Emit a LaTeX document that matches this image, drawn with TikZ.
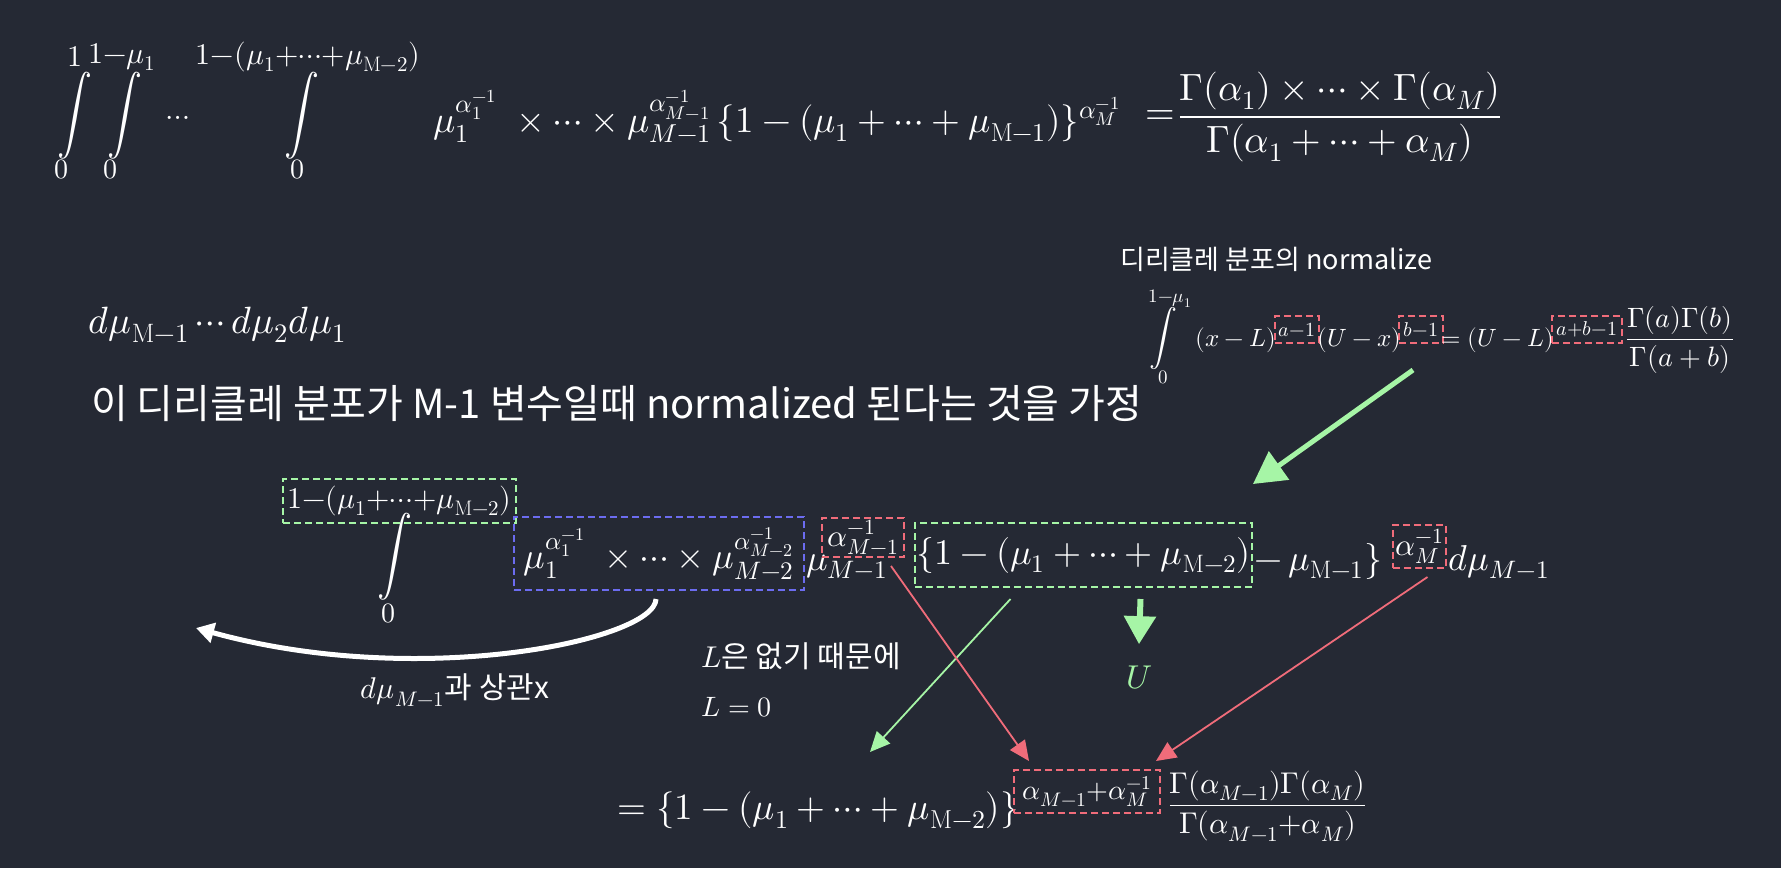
\documentclass[tikz,border=0pt]{standalone}
\usepackage{fontspec}
\usepackage{unicode-math}
\setmathfont{Latin Modern Math}
\newfontfamily\krfont{Noto Sans CJK KR}
\usetikzlibrary{arrows.meta}
\definecolor{bgdark}{RGB}{37,41,52}
\definecolor{lgreen}{RGB}{166,245,166}
\definecolor{lpink}{RGB}{240,108,122}
\definecolor{lblue}{RGB}{108,108,240}
\newcommand{\pxsize}[1]{\fontsize{#1}{#1}\selectfont}
\newcommand{\tallint}{\scalebox{1}[1.12]{$\displaystyle\int$}}

\begin{document}
\begin{tikzpicture}[x=1pt,y=-1pt,
    eqn/.style={text=white, inner sep=0pt},
    greenbox/.style={draw=lgreen, dash pattern=on 7pt off 4pt, line width=2pt, inner sep=0pt, text=white},
    redbox/.style={draw=lpink, dash pattern=on 7pt off 4pt, line width=2pt, inner sep=0pt, text=white},
    bluebox/.style={draw=lblue, dash pattern=on 7pt off 4pt, line width=2pt, inner sep=0pt, text=white},
    thinarrow/.style={line width=1.8pt, -{Triangle[length=20pt,width=18pt]}}]
       \useasboundingbox (0,0) rectangle (1781,868);
       \fill[bgdark] (0,0) rectangle (1781,868);

       % first line: the M-fold integral
       \node[eqn, font=\pxsize{35}] (intA) at (75,116) {\tallint};
       \node[eqn, font=\pxsize{30}] (intAup) at (75,57) {$1$};
       \node[eqn, font=\pxsize{28}] (intAlo) at (61,169) {$0$};
       \node[eqn, font=\pxsize{35}] (intB) at (125,116) {\tallint};
       \node[eqn, font=\pxsize{30}] (intBup) at (122,57) {$1{-}\mu_1$};
       \node[eqn, font=\pxsize{28}] (intBlo) at (110,169) {$0$};
       \node[eqn, font=\pxsize{30}] (intdots) at (178,118) {$\ldots$};
       \node[eqn, font=\pxsize{35}] (intC) at (302,116) {\tallint};
       \node[eqn, font=\pxsize{30}] (intCup) at (308,57) {$1{-}(\mu_1{+}{\cdots}{+}\mu_{\mathrm{M}-2})$};
       \node[eqn, font=\pxsize{28}] (intClo) at (297,169) {$0$};
       \node[eqn, font=\pxsize{37}, anchor=base west] (integrand) at (433,132)
          {$\mu_1^{\alpha_1^{-1}}\ \times\cdots\times\mu_{M-1}^{\alpha_{M-1}^{-1}}\,\{1-(\mu_1+\cdots+\mu_{\mathrm{M}-1})\}^{\alpha_M^{-1}}$};
       \node[eqn, font=\pxsize{38}] (eqA) at (1160,118) {$=$};
       \node[eqn, font=\pxsize{38}] (fracA) at (1340,117)
          {$\displaystyle\frac{\mitGamma(\alpha_1)\times\cdots\times\mitGamma(\alpha_M)}{\mitGamma(\alpha_1+\cdots+\alpha_M)}$};

       \node[eqn, font=\pxsize{38}, anchor=base west] (dmu) at (88,333) {$d\mu_{\mathrm{M}-1}\cdots d\mu_2d\mu_1$};
       \node[eqn, font=\pxsize{40}\krfont, anchor=west] (assume) at (91,404) {이 디리클레 분포가 M-1 변수일때 normalized 된다는 것을 가정};

       % normalize of the Dirichlet (beta) integral
       \node[eqn, font=\pxsize{27}\krfont, anchor=west] (normtitle) at (1120,259) {디리클레 분포의 normalize};
       \node[eqn, font=\pxsize{28}] (intN) at (1163,338) {$\displaystyle\int$};
       \node[eqn, font=\pxsize{19}] (intNup) at (1170,299) {$1{-}\mu_1$};
       \node[eqn, font=\pxsize{19}] (intNlo) at (1163,377) {$0$};
       \node[eqn, font=\pxsize{25}] (xL) at (1236,340) {$(x-L)$};
       \node[redbox, font=\pxsize{20}, minimum width=44pt, minimum height=27pt] (expA) at (1297,329.5) {$a{-}1$};
       \node[eqn, font=\pxsize{25}] (Ux) at (1359.5,340) {$(U-x)$};
       \node[redbox, font=\pxsize{20}, minimum width=44pt, minimum height=27pt] (expB) at (1421,329.5) {$b{-}1$};
       \node[eqn, font=\pxsize{25}] (UL) at (1498,340) {$=(U-L)$};
       \node[redbox, font=\pxsize{20}, minimum width=70pt, minimum height=27pt] (expAB) at (1587,329.5) {$a{+}b{-}1$};
       \node[eqn, font=\pxsize{28}] (fracN) at (1680,340) {$\displaystyle\frac{\mitGamma(a)\mitGamma(b)}{\mitGamma(a+b)}$};

       % middle line
       \node[greenbox, font=\pxsize{30}, minimum width=233pt, minimum height=44pt] (limC) at (399.5,501) {$1{-}(\mu_1{+}{\cdots}{+}\mu_{\mathrm{M}-2})$};
       \node[eqn, font=\pxsize{35}] (intM) at (395,557) {\tallint};
       \node[eqn, font=\pxsize{28}] (intMlo) at (388,613) {$0$};
       \node[bluebox, font=\pxsize{36}, minimum width=290pt, minimum height=73pt] (prodM) at (659,553.5)
          {$\mu_1^{\alpha_1^{-1}}\ \times\cdots\times\mu_{M-2}^{\alpha_{M-2}^{-1}}$};
       \node[eqn, font=\pxsize{36}, anchor=base west] (muM) at (806,570) {$\mu_{M-1}$};
       \node[redbox, font=\pxsize{31}, minimum width=82pt, minimum height=39pt] (expM) at (863,537.5) {$\alpha_{M-1}^{-1}$};
       \node[greenbox, font=\pxsize{36}, minimum width=337pt, minimum height=64pt] (restM) at (1083.5,555)
          {$\{1-(\mu_1+\cdots+\mu_{\mathrm{M}-2})$};
       \node[eqn, font=\pxsize{36}, anchor=base west] (lastM) at (1254,570) {$-\,\mu_{\mathrm{M}-1}\}$};
       \node[redbox, font=\pxsize{31}, minimum width=53pt, minimum height=43pt] (expLast) at (1419.5,546.5) {$\alpha_M^{-1}$};
       \node[eqn, font=\pxsize{36}, anchor=base west] (dmuM) at (1448,570) {$d\mu_{M-1}$};

       % notes
       \node[eqn, font=\pxsize{30}] (nodep) at (455,690) {$d\mu_{M-1}$\krfont 과 상관x};
       \node[eqn, font=\pxsize{30}, anchor=west] (noL) at (701,656) {$L$\krfont 은 없기 때문에};
       \node[eqn, font=\pxsize{28}, anchor=west] (Lzero) at (701,707) {$L=0$};
       \node[eqn, font=\pxsize{33}, text=lgreen] (Unode) at (1139,678) {$U$};

       % bottom line
       \node[eqn, font=\pxsize{37}, anchor=base west] (result) at (617,819) {$=\{1-(\mu_1+\cdots+\mu_{\mathrm{M}-2})\}$};
       \node[redbox, font=\pxsize{28}, minimum width=146pt, minimum height=43pt] (expSum) at (1087,791.5) {$\alpha_{M-1}{+}\alpha_M^{-1}$};
       \node[eqn, font=\pxsize{30}] (fracR) at (1267.5,806)
          {$\displaystyle\frac{\mitGamma(\alpha_{M-1})\mitGamma(\alpha_M)}{\mitGamma(\alpha_{M-1}{+}\alpha_M)}$};

       % arrows
       \coordinate (normFrom) at (1413,370);
       \coordinate (normTo) at (1253,484);
       \coordinate (curveEnd) at (196,628);
       \coordinate (greenEnd) at (870,752);
       \draw[lgreen, line width=5pt, -{Triangle[length=32pt,width=34pt]}] (normFrom) -- (normTo);
       \draw[white, line width=5pt, -{Triangle[length=18pt,width=20pt]}] ([xshift=-3pt,yshift=-8pt]prodM.south)
            .. controls (655,640) and (420,690) .. (curveEnd);
       \draw[lgreen, line width=6pt, -{Triangle[length=28pt,width=31pt]}] ([xshift=57pt,yshift=-11pt]restM.south) -- ([yshift=22pt]Unode.north);
       \draw[lgreen, thinarrow] ([xshift=-73pt,yshift=-11pt]restM.south) -- (greenEnd);
       \draw[lpink, thinarrow] ([xshift=28pt,yshift=-8pt]expM.south) -- ([xshift=16pt,yshift=8pt]expSum.north west);
       \draw[lpink, thinarrow] ([xshift=8pt,yshift=-8pt]expLast.south) -- ([xshift=-5pt,yshift=8pt]expSum.north east);
\end{tikzpicture}
\end{document}
